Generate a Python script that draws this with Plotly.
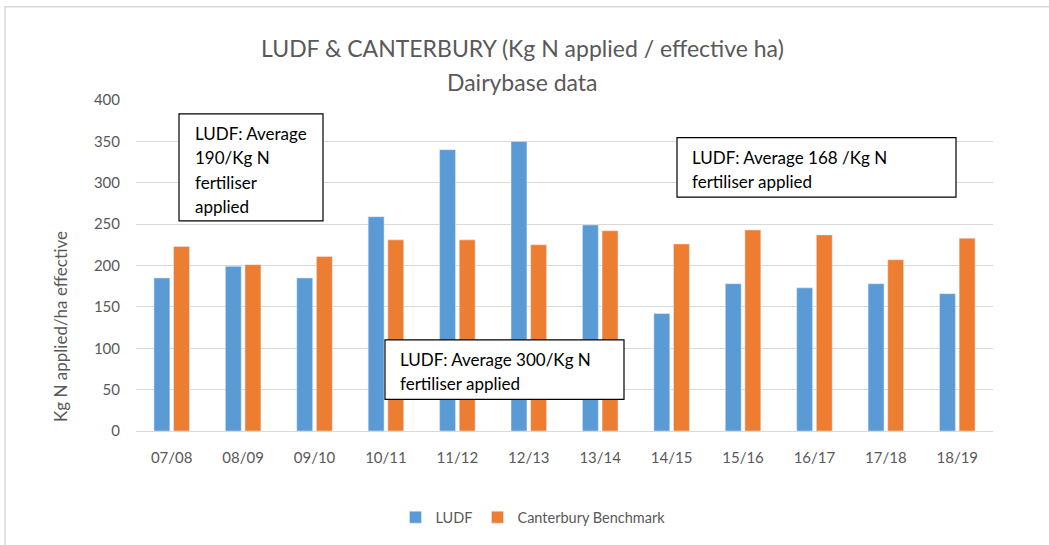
import plotly.graph_objects as go

seasons = ["07/08", "08/09", "09/10", "10/11", "11/12", "12/13",
           "13/14", "14/15", "15/16", "16/17", "17/18", "18/19"]
ludf = [185, 199, 185, 259, 340, 350, 249, 142, 178, 173, 178, 166]
canterbury = [223, 201, 211, 231, 231, 225, 242, 226, 243, 237, 207, 233]

y_ticks = [0, 50, 100, 150, 200, 250, 300, 350, 400]

# plot area in pixels (window 1049 x 545)
W, H = 1049, 545
L, R, T, B = 136, 993, 100, 434
PW, PH = R - L, B - T


def px(x):
    return (x - L) / PW


def py(y):
    return (B - y) / PH


GREY = "#595959"
FONT = "Lato"

fig = go.Figure()
fig.add_trace(go.Bar(x=seasons, y=ludf, name="LUDF", marker_color="#5B9BD5"))
fig.add_trace(go.Bar(x=seasons, y=canterbury, name="Canterbury Benchmark",
                     marker_color="#ED7D31"))

fig.update_layout(
    width=W, height=H,
    margin=dict(l=L, r=W - R, t=T, b=H - B),
    paper_bgcolor="white", plot_bgcolor="white",
    barmode="group", bargap=0.45, bargroupgap=0.19,
    font=dict(family=FONT, color=GREY, size=14),
    showlegend=True,
    legend=dict(orientation="h", x=px(533), xanchor="center", y=py(521), yanchor="middle",
                font=dict(size=14.5, color=GREY), itemwidth=30),
)
fig.update_xaxes(showgrid=False, showline=True, linecolor="#D9D9D9", ticks="",
                 ticklabelstandoff=13, tickfont=dict(size=15, color=GREY))
fig.update_yaxes(range=[0, 400], tickvals=y_ticks, showgrid=True, gridcolor="#D9D9D9",
                 zeroline=False, ticks="", ticklabelstandoff=15,
                 tickfont=dict(size=15, color=GREY))

shapes = [
    # outer chart frame
    dict(type="rect", xref="paper", yref="paper", x0=px(5), x1=px(1100),
         y0=py(600), y1=py(6), line=dict(color="#D9D9D9", width=1.5), layer="below"),
    # callout boxes
    dict(type="rect", xref="paper", yref="paper", x0=px(179), x1=px(323),
         y0=py(222), y1=py(114), line=dict(color="black", width=1.2), fillcolor="white"),
    dict(type="rect", xref="paper", yref="paper", x0=px(385), x1=px(624),
         y0=py(402), y1=py(342), line=dict(color="black", width=1.2), fillcolor="white"),
    dict(type="rect", xref="paper", yref="paper", x0=px(677), x1=px(956),
         y0=py(198), y1=py(138), line=dict(color="black", width=1.2), fillcolor="white"),
]
fig.update_layout(shapes=shapes)

notes = [
    ("LUDF & CANTERBURY (Kg N applied / effective ha)", 522, 48, 23, GREY, "center"),
    ("Dairybase data", 522, 82, 23, GREY, "center"),
    ("LUDF: Average", 193, 134, 17, "black", "left"),
    ("190/Kg N", 193, 158, 17, "black", "left"),
    ("fertiliser", 193, 183, 17, "black", "left"),
    ("applied", 193, 207, 17, "black", "left"),
    ("LUDF: Average 300/Kg N", 398, 362, 17, "black", "left"),
    ("fertiliser applied", 398, 386, 17, "black", "left"),
    ("LUDF: Average 168 /Kg N", 690, 158, 17, "black", "left"),
    ("fertiliser applied", 690, 182, 17, "black", "left"),
]
for text, x, y, size, color, anchor in notes:
    fig.add_annotation(text=text, xref="paper", yref="paper", x=px(x), y=py(y),
                       xanchor=anchor, yanchor="middle", showarrow=False,
                       font=dict(family=FONT, size=size, color=color))

fig.add_annotation(text="Kg N applied/ha effective", xref="paper", yref="paper",
                   x=px(61), y=py(329), textangle=-90, showarrow=False,
                   xanchor="center", yanchor="middle",
                   font=dict(family=FONT, size=17, color=GREY))

# the page body has a default 8px margin; drop it so the chart fills the window
fig.write_html("out.html", config={"displayModeBar": False},
               post_script="document.body.style.margin='0';")
